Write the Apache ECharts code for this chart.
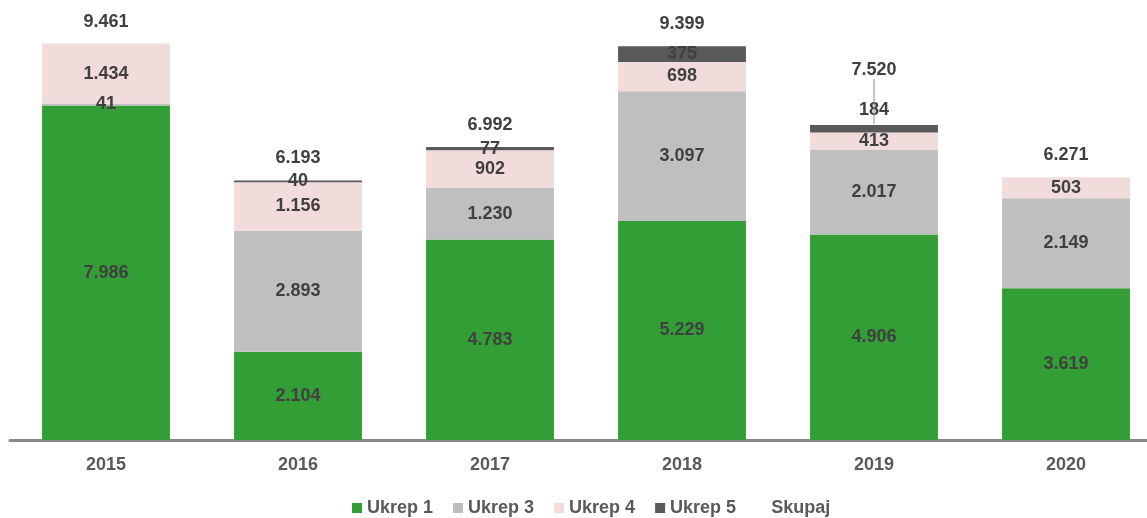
<!DOCTYPE html>
<html>
<head>
<meta charset="utf-8">
<script src="https://cdn.jsdelivr.net/npm/echarts@6/dist/echarts.min.js"></script>
<style>
	html,body{margin:0;padding:0;background:#fff;}
	#chart{width:1147px;height:518px;}
</style>
</head>
<body>
<div id="chart"></div>
<script>
var years = ['2015', '2016', '2017', '2018', '2019', '2020'];
var ukrep1 = [7986, 2104, 4783, 5229, 4906, 3619];
var ukrep3 = [41, 2893, 1230, 3097, 2017, 2149];
var ukrep4 = [1434, 1156, 902, 698, 413, 503];
var ukrep5 = [0, 40, 77, 375, 184, 0];
var skupaj = [9461, 6193, 6992, 9399, 7520, 6271];

var labelColor = '#404040';
var fontName = 'Liberation Sans';

//slovenski zapis tisočic s piko
function fmt(v){
	if(!v) return '';
	return String(v).replace(/\B(?=(\d{3})+(?!\d))/g, '.');
}

function barSeries(name, values, color){
	return {
		name: name,
		type: 'bar',
		stack: 'ukrepi',
		barWidth: '66.6%',
		itemStyle: {color: color},
		label: {
			show: true,
			position: 'inside',
			color: labelColor,
			fontFamily: fontName,
			fontWeight: 'bold',
			fontSize: 18,
			formatter: function(p){ return fmt(p.value); }
		},
		data: values.slice()
	};
}

var s5 = barSeries('Ukrep 5', ukrep5, '#595959');
// 2019: oznaka nad stolpcem
s5.data[4] = {value: ukrep5[4], label: {position: 'top', distance: 6}};

var myChart = echarts.init(document.getElementById('chart'));
myChart.setOption({
	animation: false,
	grid: {left: 10, right: -15, top: 21, bottom: 78, outerBoundsMode: 'none'},
	legend: {
		left: 347,
		bottom: -4,
		itemWidth: 10,
		itemHeight: 10,
		itemGap: 20,
		icon: 'rect',
		textStyle: {color: '#595959', fontFamily: fontName, fontWeight: 'bold', fontSize: 18},
		data: ['Ukrep 1', 'Ukrep 3', 'Ukrep 4', 'Ukrep 5', 'Skupaj']
	},
	xAxis: {
		type: 'category',
		data: years,
		axisTick: {show: false},
		axisLine: {show: true, lineStyle: {color: '#898989', width: 3}},
		axisLabel: {color: '#595959', fontFamily: fontName, fontWeight: 'bold', fontSize: 18, margin: 16}
	},
	yAxis: {
		type: 'value',
		min: 0,
		max: 10000,
		show: false,
		splitLine: {show: false}
	},
	series: [
		barSeries('Ukrep 1', ukrep1, '#339E36'),
		barSeries('Ukrep 3', ukrep3, '#BFBFBF'),
		barSeries('Ukrep 4', ukrep4, '#F2DCDB'),
		s5,
		{
			name: 'Skupaj',
			type: 'line',
			symbol: 'circle',
			symbolSize: 2,
			itemStyle: {color: 'rgba(0,0,0,0)'},
			lineStyle: {width: 0, opacity: 0},
			label: {
				show: true,
				position: 'top',
				distance: 12,
				color: labelColor,
				fontFamily: fontName,
				fontWeight: 'bold',
				fontSize: 18,
				formatter: function(p){ return fmt(p.value); }
			},
			labelLine: {show: false},
			labelLayout: function(p){
				if(p.dataIndex === 4) return {dy: -33};
			},
			data: skupaj.map(function(v, i){
				if(i === 4) return {value: v, labelLine: {show: true, lineStyle: {color: '#8C8C8C', width: 1}}};
				return v;
			}),
			z: 5
		}
	]
});
</script>
</body>
</html>
